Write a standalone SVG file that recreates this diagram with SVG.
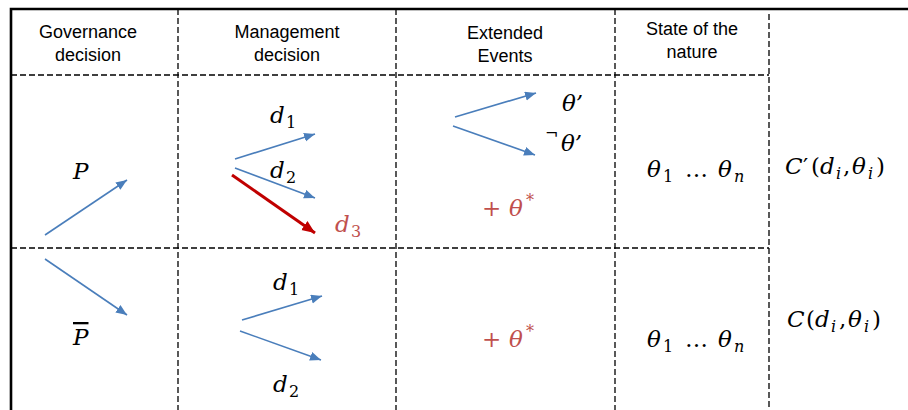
<svg xmlns="http://www.w3.org/2000/svg" width="908" height="410" viewBox="0 0 908 410">
<defs>
<marker id="ab" markerUnits="userSpaceOnUse" markerWidth="12" markerHeight="10" refX="11" refY="4.5" orient="auto">
<path d="M0,0 L11,4.5 L0,9 Z" fill="#4A7EBB"/>
</marker>
<marker id="ar" markerUnits="userSpaceOnUse" markerWidth="14" markerHeight="12" refX="13" refY="5.5" orient="auto">
<path d="M0,0 L13,5.5 L0,11 Z" fill="#C00000"/>
</marker>
</defs>
<style>
.h{font-family:"Liberation Sans",Arial,sans-serif;font-size:18px;fill:#000;text-anchor:middle}
.m{font-family:"DejaVu Serif","Liberation Serif",serif;font-style:italic;font-size:23px;fill:#000}
.u{font-style:normal}
.s{font-style:normal;font-size:16px}
.si{font-size:16px}
.red{fill:#C0504D}
.grid{stroke:#000;stroke-width:1.3;stroke-dasharray:6 3;fill:none}
.border{stroke:#000;stroke-width:2.6;fill:none}
.b{stroke:#4A7EBB;stroke-width:1.6;fill:none;marker-end:url(#ab)}
.r{stroke:#C00000;stroke-width:3;fill:none;marker-end:url(#ar)}
</style>
<rect width="908" height="410" fill="#fff"/>
<g id="table">
<path class="border" d="M11,410 V9 H908"/>
<path class="grid" d="M178,9 V410 M396,9 V410 M615,9 V410 M769,14 V410 M11,75 H769 M11,248 H769"/>
</g>
<g id="headers">
<text class="h" x="88" y="38">Governance</text>
<text class="h" x="88" y="61">decision</text>
<text class="h" x="287" y="38">Management</text>
<text class="h" x="287" y="61">decision</text>
<text class="h" x="505" y="39">Extended</text>
<text class="h" x="505" y="62">Events</text>
<text class="h" x="692" y="35">State of the</text>
<text class="h" x="692" y="58">nature</text>
</g>
<g id="connectors">
<line class="b" x1="45" y1="235" x2="127" y2="180"/>
<line class="b" x1="45" y1="259" x2="127" y2="315"/>
<line class="b" x1="235" y1="159" x2="315" y2="134"/>
<line class="b" x1="235" y1="168" x2="315" y2="198"/>
<line class="r" x1="232" y1="175" x2="315" y2="233"/>
<line class="b" x1="455" y1="117" x2="536" y2="93"/>
<line class="b" x1="453" y1="126" x2="535" y2="155"/>
<line class="b" x1="242" y1="320" x2="322" y2="296"/>
<line class="b" x1="240" y1="331" x2="321" y2="360"/>
</g>
<g id="governance">
<text class="m" x="73" y="179">P</text>
<text class="m" x="73" y="345" text-decoration="overline">P</text>
</g>
<g id="management">
<text class="m" x="270" y="123">d<tspan class="s" x="286" y="128">1</tspan></text>
<text class="m" x="270" y="178">d<tspan class="s" x="286" y="183">2</tspan></text>
<text class="m red" x="335" y="232">d<tspan class="s" x="351" y="237">3</tspan></text>
<text class="m" x="273" y="290">d<tspan class="s" x="289" y="295">1</tspan></text>
<text class="m" x="273" y="392">d<tspan class="s" x="289" y="397">2</tspan></text>
</g>
<g id="events">
<text class="m" x="562" y="111">θ’</text>
<text class="m" x="545" y="151"><tspan class="u" font-size="16px" y="138.5">¬</tspan><tspan x="561" y="151">θ’</tspan></text>
<text class="m red" x="482" y="216"><tspan class="u">+</tspan><tspan x="509">θ</tspan><tspan class="s" x="526" y="206">*</tspan></text>
<text class="m red" x="482" y="347"><tspan class="u">+</tspan><tspan x="509">θ</tspan><tspan class="s" x="526" y="337">*</tspan></text>
</g>
<g id="nature">
<text class="m" x="647" y="177">θ<tspan class="s" x="663" y="182">1</tspan><tspan class="u" x="685" y="177">…</tspan><tspan x="718">θ</tspan><tspan class="si" x="734" y="182">n</tspan></text>
<text class="m" x="647" y="347">θ<tspan class="s" x="663" y="352">1</tspan><tspan class="u" x="685" y="347">…</tspan><tspan x="718">θ</tspan><tspan class="si" x="734" y="352">n</tspan></text>
</g>
<g id="cost">
<text class="m" x="785" y="174">C<tspan class="u" x="803">′</tspan><tspan class="u" x="811">(</tspan><tspan x="820">d</tspan><tspan class="si" x="836" y="179">i</tspan><tspan class="u" x="843" y="174">,</tspan><tspan x="852">θ</tspan><tspan class="si" x="868" y="179">i</tspan><tspan class="u" x="876" y="174">)</tspan></text>
<text class="m" x="787" y="327">C<tspan class="u" x="806">(</tspan><tspan x="815">d</tspan><tspan class="si" x="831" y="332">i</tspan><tspan class="u" x="839" y="327">,</tspan><tspan x="848">θ</tspan><tspan class="si" x="864" y="332">i</tspan><tspan class="u" x="872" y="327">)</tspan></text>
</g>
</svg>
